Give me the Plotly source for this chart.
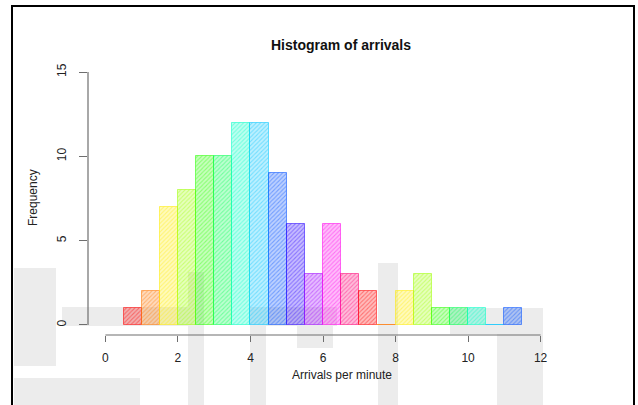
import colorsys
import plotly.graph_objects as go

# ---- data ----
bin_starts = [0.5, 1.0, 1.5, 2.0, 2.5, 3.0, 3.5, 4.0, 4.5, 5.0, 5.5,
              6.0, 6.5, 7.0, 7.5, 8.0, 8.5, 9.0, 9.5, 10.0, 10.5, 11.0]
counts = [1, 2, 7, 8, 10, 10, 12, 12, 9, 6, 3,
          6, 3, 2, 0, 2, 3, 1, 1, 1, 0, 1]
bin_width = 0.5
x_ticks = [0, 2, 4, 6, 8, 10, 12]
y_ticks = [0, 5, 10, 15]
title_text = "Histogram of arrivals"
x_label = "Arrivals per minute"
y_label = "Frequency"
n_colors = 13

W, H = 638, 405
L, R, T, B = 88, 558, 62, 335  # plot area in px


def xp(px):
    return (px - L) / (R - L)


def yp(py):
    return (B - py) / (B - T)


def rgb(i, a=1.0):
    r, g, b = colorsys.hsv_to_rgb((i % n_colors) / n_colors, 1, 1)
    return f"rgba({int(r*255)},{int(g*255)},{int(b*255)},{a})"


fig = go.Figure()
for i, (s, c) in enumerate(zip(bin_starts, counts)):
    fig.add_trace(go.Bar(
        x=[s + bin_width / 2], y=[c], width=[bin_width],
        marker=dict(
            color=rgb(i, 0.26),
            line=dict(color=rgb(i, 0.55), width=1),
            pattern=dict(shape="/", fillmode="overlay",
                         fgcolor=rgb(i, 1.0), fgopacity=0.4,
                         size=3, solidity=0.35),
        ),
        hoverinfo="x+y",
    ))

gray = "#ececec"
wm_rects = [
    (14, 268, 56, 366),
    (14, 378, 140, 405),
    (62, 307, 200, 326),
    (188, 272, 204, 405),
    (250, 307, 337, 326),
    (250, 326, 266, 405),
    (297, 326, 333, 348),
    (378, 263, 398, 405),
    (450, 308, 543, 334),
    (497, 334, 543, 405),
]
shapes = []
for x0, y0, x1, y1 in wm_rects:
    shapes.append(dict(type="rect", xref="paper", yref="paper",
                       x0=xp(x0), x1=xp(x1), y0=yp(y1), y1=yp(y0),
                       fillcolor=gray, line=dict(width=0), layer="below"))

axis_col = "#6e6e6e"
shapes += [
    dict(type="line", xref="x", yref="paper", x0=x_ticks[0], x1=x_ticks[-1],
         y0=0, y1=0, line=dict(color=axis_col, width=1.2)),
    dict(type="line", xref="paper", yref="y", x0=0, x1=0,
         y0=y_ticks[0], y1=y_ticks[-1], line=dict(color=axis_col, width=1.2)),
    dict(type="path", xref="paper", yref="paper",
         path=f"M {xp(12)},{yp(410)} L {xp(12)},{yp(6)} L {xp(634)},{yp(6)} L {xp(634)},{yp(410)}",
         line=dict(color="black", width=2)),
]

font = "Liberation Sans, Arial, Helvetica, sans-serif"
fig.update_layout(
    width=W, height=H,
    margin=dict(l=L, r=W - R, t=T, b=H - B, pad=0),
    paper_bgcolor="white", plot_bgcolor="rgba(0,0,0,0)",
    bargap=0, barmode="overlay", showlegend=False,
    font=dict(family=font, size=12, color="#222"),
    shapes=shapes,
    xaxis=dict(range=[-0.48, 12.48], tickvals=x_ticks, ticks="outside",
               ticklen=6, tickwidth=1, tickcolor=axis_col, showgrid=False,
               zeroline=False, showline=False, ticklabelstandoff=6,
               tickfont=dict(size=12, color="#222")),
    yaxis=dict(range=[-0.6, 15.6], tickvals=y_ticks, ticks="outside",
               ticklen=8, tickwidth=1, tickcolor=axis_col, showgrid=False,
               zeroline=False, showline=False, tickangle=-90,
               ticklabelstandoff=8, tickfont=dict(size=12, color="#222")),
    annotations=[
        dict(text=f"<b>{title_text}</b>", xref="paper", yref="paper",
             x=xp(341), y=yp(35), showarrow=False,
             font=dict(size=14, color="#111")),
        dict(text=x_label, xref="paper", yref="paper",
             x=xp(342), y=yp(384), showarrow=False,
             font=dict(size=12, color="#222")),
        dict(text=y_label, xref="paper", yref="paper",
             x=xp(24), y=yp(198), showarrow=False, textangle=-90,
             font=dict(size=12, color="#222")),
    ],
)

fig.write_html("out.html", config={"displayModeBar": False},
               post_script="document.body.style.margin='0';document.body.style.overflow='hidden';")
